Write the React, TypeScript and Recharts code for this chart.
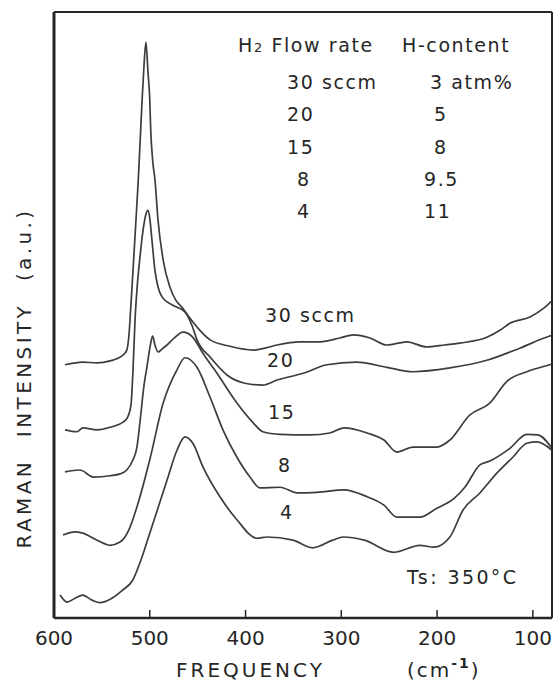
import React from 'react';
import { LineChart, Line, XAxis, YAxis } from 'recharts';

// Raman spectra for the five H2 flow rates, [frequency cm-1, intensity a.u.]
const spectrum30: [number, number][] = [
  [588.5, 3.97], [570, 4.01], [555, 4.0], [541.5, 4.03], [528, 4.12], [524, 4.2], [521.7, 4.44],
  [520, 4.83], [517.5, 5.45], [514.4, 6.24], [512, 6.87], [510, 7.49], [508, 8.12], [506, 8.67],
  [504, 9.03], [502, 8.59], [500, 8.12], [499, 7.65], [497, 7.18], [494.6, 6.87], [491.4, 6.24],
  [486, 5.61], [479, 5.19], [472.7, 4.98], [466.4, 4.87], [458, 4.7], [447.6, 4.51], [437, 4.36],
  [416.3, 4.26], [392, 4.2], [379.7, 4.23], [367, 4.28], [343, 4.33], [322, 4.33], [301.5, 4.39],
  [287, 4.44], [270, 4.39], [252.4, 4.28], [231.5, 4.33], [211, 4.25], [192, 4.28], [176, 4.31],
  [148, 4.4], [134.4, 4.51], [124, 4.62], [103, 4.72], [87.5, 4.87], [80, 4.97],
];

const spectrum20: [number, number][] = [
  [588.5, 2.95], [576, 2.92], [570, 2.98], [555, 2.95], [541.5, 2.99], [528, 3.07], [523, 3.15],
  [519.6, 3.34], [517.5, 3.89], [515.4, 4.67], [513.4, 5.14], [510, 5.69], [507, 6.08], [504, 6.33],
  [502, 6.39], [500, 6.27], [497.7, 5.92], [494.6, 5.45], [491.4, 5.19], [487, 5.03], [476.8, 4.91],
  [463.3, 4.8], [456, 4.59], [450.7, 4.36], [437, 4.09], [419.4, 3.81], [400.6, 3.68], [382, 3.65],
  [367, 3.73], [339, 3.84], [315, 3.97], [284, 4.01], [252.4, 3.93], [225.3, 3.86], [186.6, 3.92],
  [148, 4.04], [113.6, 4.23], [82.3, 4.42], [80, 4.43],
];

const spectrum15: [number, number][] = [
  [588.5, 2.29], [572.9, 2.32], [559, 2.21], [541.5, 2.23], [531, 2.26], [524, 2.32], [517.5, 2.48],
  [513.4, 2.68], [510, 3.1], [506, 3.65], [503, 3.93], [499, 4.31], [497, 4.42], [494.6, 4.28],
  [491.4, 4.17], [487, 4.22], [482, 4.28], [473.7, 4.4], [465.3, 4.48], [455, 4.4], [444.5, 4.15],
  [430, 3.84], [409, 3.37], [392, 3.06], [382, 2.92], [364, 2.88], [333, 2.87], [312, 2.9],
  [297, 2.98], [273, 2.9], [255.5, 2.79], [242, 2.6], [225.3, 2.68], [200.2, 2.68], [186.6, 2.79],
  [166, 3.18], [145, 3.37], [127.1, 3.71], [106.3, 3.86], [82.3, 3.97], [80, 3.98],
];

const spectrum8: [number, number][] = [
  [590.6, 1.3], [578, 1.35], [570, 1.33], [555, 1.22], [541.5, 1.14], [531, 1.19], [521, 1.41],
  [513.4, 1.74], [500, 2.48], [486, 3.37], [471.6, 3.89], [463.3, 4.08], [450.7, 3.93], [437, 3.46],
  [423.6, 2.95], [409, 2.52], [395.4, 2.21], [385, 2.04], [364, 2.05], [346, 1.96], [325.5, 1.97],
  [297, 2.01], [273, 1.9], [255.5, 1.77], [242, 1.58], [218, 1.58], [200.2, 1.72], [182.5, 1.87],
  [171, 2.05], [155.3, 2.4], [145, 2.46], [124, 2.66], [106.3, 2.88], [94.8, 2.87], [80, 2.66],
];

const spectrum4: [number, number][] = [
  [593.7, 0.36], [586.4, 0.25], [578, 0.31], [570, 0.36], [560.3, 0.28], [552, 0.24], [539.5, 0.31],
  [528, 0.44], [517.5, 0.6], [509.2, 0.91], [500, 1.33], [482, 2.16], [471.6, 2.63], [463.3, 2.84],
  [455, 2.74], [444.5, 2.37], [426.7, 1.9], [409, 1.54], [388, 1.25], [377.7, 1.27], [350.5, 1.22],
  [330, 1.1], [309, 1.22], [298, 1.27], [276, 1.22], [245, 1.03], [218, 1.14], [203.3, 1.11],
  [186.6, 1.27], [173, 1.69], [155.3, 1.96], [137.6, 2.27], [120.9, 2.52], [106.3, 2.74],
  [95.8, 2.76], [80, 2.63],
];

const flowRates = ['30 sccm', '20', '15', '8', '4'];
const hContents = ['3 atm%', '5', '8', '9.5', '11'];
const freqTicks = [600, 500, 400, 300, 200, 100];
const intensityTicks = [1, 2, 3, 4, 5, 6, 7, 8, 9];

const series = [spectrum30, spectrum20, spectrum15, spectrum8, spectrum4].map((pts) =>
  pts.map(([f, v]) => ({ f, v }))
);

const INK = '#262626';
const LINE = '#3d3d3d';
const FONT = '"DejaVu Sans", sans-serif';

const BottomTick = (props: any) => {
  const { x, y, payload } = props;
  return (
    <g>
      <line x1={x} x2={x} y1={y} y2={y - 8} stroke={INK} strokeWidth={1.5} />
      <text x={x} y={y + 27} textAnchor="middle" fontFamily={FONT} fontSize={20} fill={INK}>
        {payload.value}
      </text>
    </g>
  );
};

const RightTick = (props: any) => {
  const { x, y } = props;
  return <line x1={x - 5} x2={x} y1={y} y2={y} stroke={INK} strokeWidth={1.5} />;
};

const txt = {
  fontFamily: FONT,
  fontSize: 19,
  fill: INK,
  letterSpacing: 1.6,
} as const;

// rows of the flow-rate / H-content table
const rowY = [89, 121, 154, 186, 218];
const flowX = [287, 287, 287, 297, 297];
const hX = [430, 434, 434, 424, 424];

// curve tags placed beside each spectrum
const tagX = [265, 267, 268, 278, 280];
const tagY = [322, 367, 419, 472, 519];

export default function App() {
  return (
    <div style={{ position: 'absolute', left: 0, top: 0, width: 554, height: 686, background: '#fff' }}>
      <LineChart width={554} height={686} margin={{ top: 0, right: 0, bottom: 0, left: 0 }}>
        <XAxis
          xAxisId="bottom"
          dataKey="f"
          type="number"
          domain={[80, 600]}
          reversed
          allowDataOverflow
          ticks={freqTicks}
          interval={0}
          height={68}
          tickSize={0}
          tickMargin={0}
          tickLine={false}
          axisLine={{ stroke: INK, strokeWidth: 2.5 }}
          tick={BottomTick}
        />
        <XAxis
          xAxisId="top"
          orientation="top"
          type="number"
          domain={[80, 600]}
          reversed
          height={12}
          tick={false}
          tickLine={false}
          axisLine={{ stroke: INK, strokeWidth: 2 }}
        />
        <YAxis
          yAxisId="left"
          type="number"
          domain={[0, 9.5]}
          width={54}
          tick={false}
          tickLine={false}
          axisLine={{ stroke: INK, strokeWidth: 3 }}
        />
        <YAxis
          yAxisId="right"
          orientation="right"
          type="number"
          domain={[0, 9.5]}
          ticks={intensityTicks}
          interval={0}
          width={2}
          tickSize={0}
          tickMargin={0}
          tickLine={false}
          axisLine={{ stroke: INK, strokeWidth: 2 }}
          tick={RightTick}
        />
        {series.map((data, i) => (
          <Line
            key={flowRates[i]}
            xAxisId="bottom"
            yAxisId="left"
            data={data}
            dataKey="v"
            type="monotone"
            stroke={LINE}
            strokeWidth={1.7}
            dot={false}
            activeDot={false}
            isAnimationActive={false}
          />
        ))}
      </LineChart>

      <svg
        width={554}
        height={686}
        style={{ position: 'absolute', left: 0, top: 0, pointerEvents: 'none' }}
      >
        <text x={238} y={52} {...txt}>
          H<tspan fontSize={13}>2</tspan> Flow rate
        </text>
        <text x={402} y={52} {...txt}>
          H-content
        </text>
        {flowRates.map((r, i) => (
          <text key={'f' + r} x={flowX[i]} y={rowY[i]} {...txt}>
            {r}
          </text>
        ))}
        {hContents.map((h, i) => (
          <text key={'h' + h} x={hX[i]} y={rowY[i]} {...txt}>
            {h}
          </text>
        ))}
        {flowRates.map((r, i) => (
          <text key={'t' + r} x={tagX[i]} y={tagY[i]} {...txt}>
            {r}
          </text>
        ))}
        <text x={407} y={584} {...txt} letterSpacing={2.4}>
          Ts: 350°C
        </text>

        <text
          transform="translate(31,378) rotate(-90)"
          textAnchor="middle"
          fontFamily={FONT}
          fontSize={20}
          fill={INK}
          letterSpacing={3.4}
          wordSpacing={12}
        >
          RAMAN INTENSITY (a.u.)
        </text>
        <text x={176} y={677} fontFamily={FONT} fontSize={20} fill={INK} letterSpacing={3}>
          FREQUENCY
        </text>
        <text x={407} y={677} fontFamily={FONT} fontSize={20} fill={INK} letterSpacing={2}>
          (cm
          <tspan dy={-9} fontSize={14} fontWeight="bold">
            -1
          </tspan>
          <tspan dy={9}>)</tspan>
        </text>
      </svg>
    </div>
  );
}
